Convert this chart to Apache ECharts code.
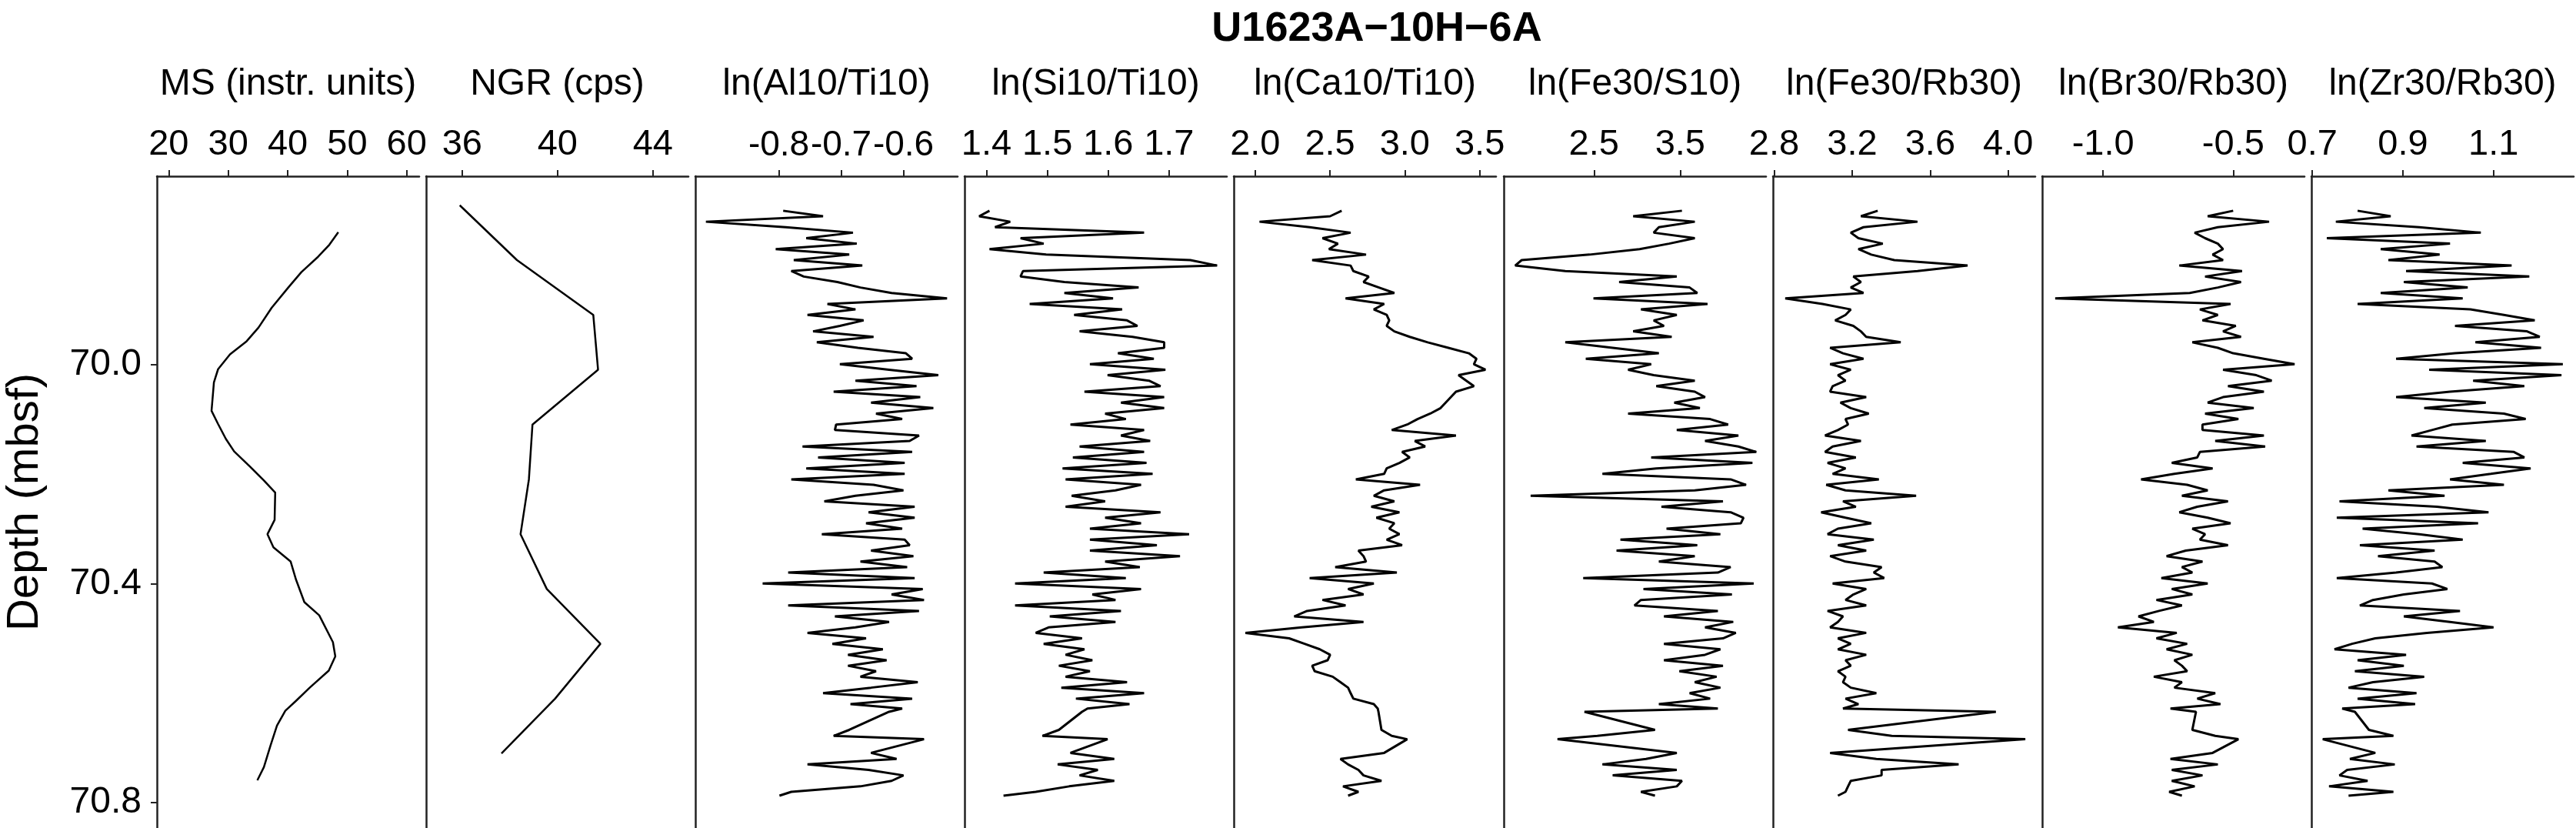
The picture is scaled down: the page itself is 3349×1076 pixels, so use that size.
<!DOCTYPE html>
<html>
<head>
<meta charset="utf-8">
<title>U1623A-10H-6A</title>
<script src="https://cdn.jsdelivr.net/npm/echarts@6/dist/echarts.min.js"></script>
<style>
  html, body { margin: 0; padding: 0; background: #fff; }
  #chart { width: 3349px; height: 1076px; }
</style>
</head>
<body>
<div id="chart"></div>
<script>
// magnetic susceptibility
const msDepth = [69.759, 69.782, 69.804, 69.832, 69.860, 69.897, 69.933, 69.958, 69.982, 70.009,
  70.033, 70.085, 70.109, 70.136, 70.159, 70.187, 70.212, 70.234, 70.284, 70.310,
  70.334, 70.360, 70.393, 70.434, 70.458, 70.507, 70.533, 70.559, 70.590, 70.614,
  70.632, 70.659, 70.696, 70.735, 70.759]
const msValue = [48.5, 47.0, 45.1, 42.3, 40.1, 37.3, 35.1, 33.1, 30.3, 28.3,
  27.6, 27.2, 28.3, 29.6, 31.0, 33.7, 36.0, 37.9, 37.8, 36.6,
  37.6, 40.5, 41.4, 42.8, 45.3, 47.6, 48.0, 46.9, 43.7, 41.4,
  39.6, 38.2, 37.1, 36.0, 34.9]

// natural gamma radiation
const ngrDepth = [69.71, 69.81, 69.91, 70.01, 70.11, 70.21, 70.31, 70.41, 70.51, 70.61, 70.71]
const ngrValue = [35.9, 38.3, 41.5, 41.7, 38.95, 38.8, 38.45, 39.55, 41.8, 39.9, 37.65]

// XRF scan depths (shared by all ratio series)
const xrfDepth = [
  69.72, 69.73, 69.74, 69.75, 69.76, 69.77, 69.78, 69.79, 69.80, 69.81,
  69.82, 69.83, 69.84, 69.85, 69.86, 69.87, 69.88, 69.89, 69.90, 69.91,
  69.92, 69.93, 69.94, 69.95, 69.96, 69.97, 69.98, 69.99, 70.00, 70.01,
  70.02, 70.03, 70.04, 70.05, 70.06, 70.07, 70.08, 70.09, 70.10, 70.11,
  70.12, 70.13, 70.14, 70.15, 70.16, 70.17, 70.18, 70.19, 70.20, 70.21,
  70.22, 70.23, 70.24, 70.25, 70.26, 70.27, 70.28, 70.29, 70.30, 70.31,
  70.32, 70.33, 70.34, 70.35, 70.36, 70.37, 70.38, 70.39, 70.40, 70.41,
  70.42, 70.43, 70.44, 70.45, 70.46, 70.47, 70.48, 70.49, 70.50, 70.51,
  70.52, 70.53, 70.54, 70.55, 70.56, 70.57, 70.58, 70.59, 70.60, 70.61,
  70.62,
  70.628, 70.634, 70.667, 70.678, 70.684, 70.709, 70.72, 70.73, 70.74, 70.75, 70.76, 70.77, 70.78, 70.787]

const alTi = [
  -0.793, -0.729, -0.917, -0.789, -0.681, -0.756, -0.675, -0.805, -0.687, -0.776,
  -0.666, -0.780, -0.760, -0.706, -0.669, -0.619, -0.530, -0.722, -0.677, -0.754,
  -0.664, -0.702, -0.745, -0.648, -0.739, -0.673, -0.596, -0.586, -0.702, -0.623,
  -0.544, -0.677, -0.579, -0.712, -0.573, -0.652, -0.552, -0.644, -0.602, -0.708,
  -0.710, -0.575, -0.590, -0.762, -0.586, -0.737, -0.598, -0.756, -0.598, -0.780,
  -0.648, -0.600, -0.677, -0.727, -0.582, -0.656, -0.582, -0.660, -0.602, -0.731,
  -0.598, -0.590, -0.652, -0.584, -0.669, -0.594, -0.785, -0.582, -0.826, -0.569,
  -0.619, -0.567, -0.785, -0.575, -0.710, -0.623, -0.677, -0.754, -0.660, -0.714,
  -0.633, -0.689, -0.627, -0.689, -0.644, -0.669, -0.577, -0.652, -0.729, -0.586,
  -0.685,
  -0.602, -0.623, -0.687, -0.712, -0.567, -0.652, -0.611, -0.754, -0.656, -0.600, -0.619, -0.669, -0.780, -0.799]

const siTi = [
  1.405, 1.388, 1.439, 1.414, 1.659, 1.456, 1.494, 1.405, 1.498, 1.735,
  1.779, 1.460, 1.456, 1.528, 1.650, 1.528, 1.608, 1.471, 1.623, 1.544,
  1.631, 1.648, 1.553, 1.640, 1.692, 1.692, 1.616, 1.675, 1.570, 1.694,
  1.599, 1.667, 1.686, 1.561, 1.692, 1.621, 1.692, 1.595, 1.629, 1.538,
  1.659, 1.621, 1.669, 1.553, 1.659, 1.542, 1.663, 1.525, 1.673, 1.530,
  1.654, 1.612, 1.540, 1.595, 1.530, 1.686, 1.595, 1.654, 1.570, 1.733,
  1.570, 1.680, 1.570, 1.718, 1.595, 1.652, 1.494, 1.629, 1.447, 1.654,
  1.574, 1.612, 1.447, 1.621, 1.504, 1.612, 1.502, 1.481, 1.557, 1.494,
  1.561, 1.530, 1.574, 1.519, 1.570, 1.530, 1.631, 1.523, 1.659, 1.547,
  1.635,
  1.566, 1.557, 1.519, 1.492, 1.599, 1.538, 1.610, 1.517, 1.583, 1.553, 1.610, 1.536, 1.481, 1.428]

const caTi = [
  2.578, 2.501, 2.029, 2.364, 2.638, 2.450, 2.553, 2.493, 2.741, 2.381,
  2.638, 2.656, 2.759, 2.724, 2.827, 2.930, 2.604, 2.862, 2.793, 2.879,
  2.896, 2.879, 2.930, 3.033, 3.153, 3.291, 3.428, 3.479, 3.462, 3.539,
  3.359, 3.411, 3.462, 3.342, 3.308, 3.273, 3.239, 3.170, 3.085, 3.016,
  2.913, 3.342, 3.067, 3.136, 2.982, 3.033, 2.964, 2.879, 2.862, 2.673,
  3.102, 2.862, 2.793, 2.930, 2.776, 2.964, 2.810, 2.930, 2.896, 2.964,
  2.879, 2.982, 2.690, 2.724, 2.741, 2.535, 2.947, 2.364, 2.793, 2.621,
  2.724, 2.450, 2.604, 2.347, 2.261, 2.724, 2.312, 1.935, 2.227, 2.330,
  2.432, 2.501, 2.484, 2.381, 2.398, 2.518, 2.570, 2.621, 2.638, 2.656,
  2.793,
  2.819, 2.824, 2.844, 2.913, 3.016, 2.862, 2.570, 2.621, 2.690, 2.724, 2.844, 2.587, 2.690, 2.621]

const feS = [
  3.521, 2.955, 3.670, 3.253, 3.193, 3.670, 3.372, 3.030, 2.449, 1.661,
  1.586, 2.167, 3.461, 2.792, 3.610, 3.699, 2.494, 3.818, 3.045, 3.461,
  3.193, 3.312, 2.955, 3.402, 2.167, 2.717, 3.253, 2.405, 3.164, 2.896,
  3.193, 3.670, 3.223, 3.670, 3.789, 3.432, 3.729, 2.896, 3.848, 4.057,
  3.461, 4.176, 3.789, 4.176, 4.384, 3.164, 4.339, 3.223, 2.598, 4.086,
  4.265, 3.670, 1.765, 3.997, 3.283, 4.086, 4.235, 4.205, 3.342, 3.967,
  2.807, 3.699, 2.762, 3.670, 3.253, 4.086, 3.938, 2.375, 4.354, 3.074,
  4.101, 3.045, 2.970, 3.938, 3.312, 4.116, 3.789, 4.146, 3.997, 3.312,
  3.967, 3.789, 3.312, 3.997, 3.491, 3.923, 3.670, 3.967, 3.610, 3.848,
  3.253,
  3.938, 2.390, 3.208, 2.539, 2.077, 3.461, 3.104, 2.598, 3.461, 2.717, 3.521, 3.461, 3.045, 3.208]

const feRb = [
  3.331, 3.245, 3.535, 3.258, 3.193, 3.232, 3.357, 3.232, 3.298, 3.416,
  3.792, 3.535, 3.206, 3.245, 3.193, 3.258, 2.857, 3.048, 3.193, 3.166,
  3.113, 3.206, 3.245, 3.272, 3.449, 3.087, 3.153, 3.258, 3.087, 3.193,
  3.127, 3.166, 3.100, 3.087, 3.272, 3.140, 3.193, 3.285, 3.166, 3.179,
  3.127, 3.061, 3.245, 3.100, 3.061, 3.219, 3.074, 3.166, 3.100, 3.337,
  3.067, 3.166, 3.528, 3.153, 3.219, 3.041, 3.166, 3.298, 3.127, 3.074,
  3.311, 3.127, 3.272, 3.087, 3.166, 3.351, 3.311, 3.364, 3.100, 3.272,
  3.206, 3.166, 3.272, 3.074, 3.153, 3.127, 3.087, 3.272, 3.127, 3.193,
  3.127, 3.272, 3.166, 3.193, 3.127, 3.166, 3.153, 3.193, 3.324, 3.166,
  3.232,
  3.153, 3.937, 3.179, 3.403, 4.088, 3.087, 3.324, 3.746, 3.351, 3.351, 3.193, 3.179, 3.166, 3.127]

const brRb = [
  -0.500, -0.598, -0.362, -0.559, -0.648, -0.608, -0.559, -0.539, -0.579, -0.539,
  -0.707, -0.466, -0.608, -0.470, -0.559, -0.667, -1.184, -0.510, -0.628, -0.559,
  -0.618, -0.490, -0.539, -0.470, -0.657, -0.559, -0.500, -0.382, -0.264, -0.539,
  -0.411, -0.352, -0.520, -0.382, -0.539, -0.598, -0.421, -0.608, -0.480, -0.618,
  -0.618, -0.382, -0.569, -0.377, -0.628, -0.638, -0.736, -0.579, -0.726, -0.854,
  -0.677, -0.598, -0.697, -0.520, -0.638, -0.707, -0.598, -0.510, -0.657, -0.608,
  -0.628, -0.520, -0.682, -0.756, -0.618, -0.697, -0.657, -0.776, -0.598, -0.736,
  -0.657, -0.795, -0.697, -0.785, -0.864, -0.805, -0.943, -0.717, -0.795, -0.677,
  -0.756, -0.657, -0.726, -0.697, -0.677, -0.805, -0.697, -0.726, -0.569, -0.638,
  -0.549,
  -0.741, -0.643, -0.657, -0.569, -0.480, -0.579, -0.741, -0.559, -0.736, -0.618, -0.736, -0.648, -0.746, -0.697]

const zrRb = [
  0.800, 0.873, 0.752, 0.936, 1.072, 0.732, 1.004, 0.851, 0.981, 0.868,
  1.140, 0.907, 1.179, 0.902, 1.043, 0.851, 1.032, 0.800, 1.049, 1.123,
  1.191, 1.015, 1.174, 1.202, 1.060, 1.205, 1.015, 0.885, 1.253, 0.958,
  1.250, 1.055, 1.168, 1.004, 0.885, 1.083, 0.947, 1.123, 1.171, 1.009,
  0.964, 0.919, 1.083, 0.930, 1.145, 1.168, 1.032, 1.182, 1.094, 1.004,
  1.123, 0.868, 0.992, 0.760, 0.975, 1.089, 0.754, 1.066, 0.811, 0.936,
  1.032, 0.805, 0.970, 0.845, 0.970, 0.987, 0.885, 0.754, 0.964, 0.998,
  0.902, 0.834, 0.805, 1.026, 0.902, 1.004, 1.100, 0.953, 0.839, 0.788,
  0.749, 0.907, 0.800, 0.902, 0.794, 0.947, 0.834, 0.780, 0.930, 0.800,
  0.927,
  0.766, 0.794, 0.825, 0.879, 0.723, 0.839, 0.783, 0.882, 0.777, 0.760, 0.822, 0.737, 0.879, 0.780]

const depthTicks = [70.0, 70.4, 70.8]

const panels = [
  { name: "MS (instr. units)", depth: msDepth, values: msValue, min: 18.02, max: 62.1, ticks: [20, 30, 40, 50, 60], digits: 0, lw: 2.5, fs: 47 },
  { name: "NGR (cps)", depth: ngrDepth, values: ngrValue, min: 34.49, max: 45.49, ticks: [36, 40, 44], digits: 0, lw: 2.5, fs: 47 },
  { name: "ln(Al10/Ti10)", depth: xrfDepth, values: alTi, min: -0.934, max: -0.513, ticks: [-0.8, -0.7, -0.6], digits: 1, lw: 3, fs: 46 },
  { name: "ln(Si10/Ti10)", depth: xrfDepth, values: siTi, min: 1.364, max: 1.795, ticks: [1.4, 1.5, 1.6, 1.7], digits: 1, lw: 3, fs: 47 },
  { name: "ln(Ca10/Ti10)", depth: xrfDepth, values: caTi, min: 1.857, max: 3.61, ticks: [2.0, 2.5, 3.0, 3.5], digits: 1, lw: 3, fs: 47 },
  { name: "ln(Fe30/S10)", depth: xrfDepth, values: feS, min: 1.453, max: 4.497, ticks: [2.5, 3.5], digits: 1, lw: 3, fs: 47 },
  { name: "ln(Fe30/Rb30)", depth: xrfDepth, values: feRb, min: 2.794, max: 4.139, ticks: [2.8, 3.2, 3.6, 4.0], digits: 1, lw: 3, fs: 47 },
  { name: "ln(Br30/Rb30)", depth: xrfDepth, values: brRb, min: -1.234, max: -0.226, ticks: [-1.0, -0.5], digits: 1, lw: 3, fs: 47 },
  { name: "ln(Zr30/Rb30)", depth: xrfDepth, values: zrRb, min: 0.698, max: 1.277, ticks: [0.7, 0.9, 1.1], digits: 1, lw: 3, fs: 47 }
]

const axisColor = "#222"
const chart = echarts.init(document.getElementById("chart"), null, { renderer: "canvas" })

const option = {
  animation: false,
  backgroundColor: "#fff",
  textStyle: { fontFamily: "\"Liberation Sans\", Arial, sans-serif", color: "#000" },
  title: {
    text: "U1623A\u221210H\u22126A",
    left: 1785,
    top: 6,
    textAlign: "center",
    textStyle: { fontSize: 54, fontWeight: "bold", color: "#000", fontFamily: "\"Liberation Sans\", Arial, sans-serif" }
  },
  grid: panels.map((p, i) => ({
    left: 204 + Math.round(350.1 * i),
    top: 229,
    width: 341,
    bottom: 0,
    outerBoundsMode: "none"
  })),
  xAxis: panels.map((p, i) => ({
    type: "value",
    gridIndex: i,
    position: "top",
    min: p.min,
    max: p.max,
    name: p.name,
    nameLocation: "middle",
    nameGap: 95,
    nameTextStyle: { fontSize: 48, color: "#000" },
    axisLine: { show: true, onZero: false, lineStyle: { color: axisColor, width: 2.5 } },
    axisTick: { show: true, length: 8, lineStyle: { color: axisColor, width: 2 }, customValues: p.ticks },
    axisLabel: {
      // Al labels sit edge to edge: slightly smaller size keeps all three
      fontSize: p.fs,
      color: "#000",
      margin: 17,
      hideOverlap: false,
      showMinLabel: true,
      showMaxLabel: true,
      customValues: p.ticks,
      formatter: (v) => Number(v).toFixed(p.digits)
    },
    splitLine: { show: false }
  })),
  yAxis: panels.map((p, i) => ({
    type: "value",
    gridIndex: i,
    inverse: true,
    min: 69.657,
    max: 70.846,
    name: i === 0 ? "Depth (mbsf)" : "",
    nameLocation: "middle",
    nameGap: 142,
    nameTextStyle: { fontSize: 58, color: "#000" },
    axisLine: { show: true, onZero: false, lineStyle: { color: axisColor, width: 2.5 } },
    axisTick: { show: i === 0, length: 8, lineStyle: { color: axisColor, width: 2 }, customValues: depthTicks },
    axisLabel: {
      show: i === 0,
      fontSize: 48,
      color: "#000",
      margin: 20,
      hideOverlap: false,
      customValues: depthTicks,
      formatter: (v) => Number(v).toFixed(1)
    },
    splitLine: { show: false }
  })),
  series: panels.map((p, i) => ({
    name: p.name,
    type: "line",
    xAxisIndex: i,
    yAxisIndex: i,
    showSymbol: false,
    symbol: "none",
    silent: true,
    lineStyle: { color: "#000", width: p.lw },
    data: p.values.map((v, j) => [v, p.depth[j]])
  }))
}

chart.setOption(option)
</script>
</body>
</html>
